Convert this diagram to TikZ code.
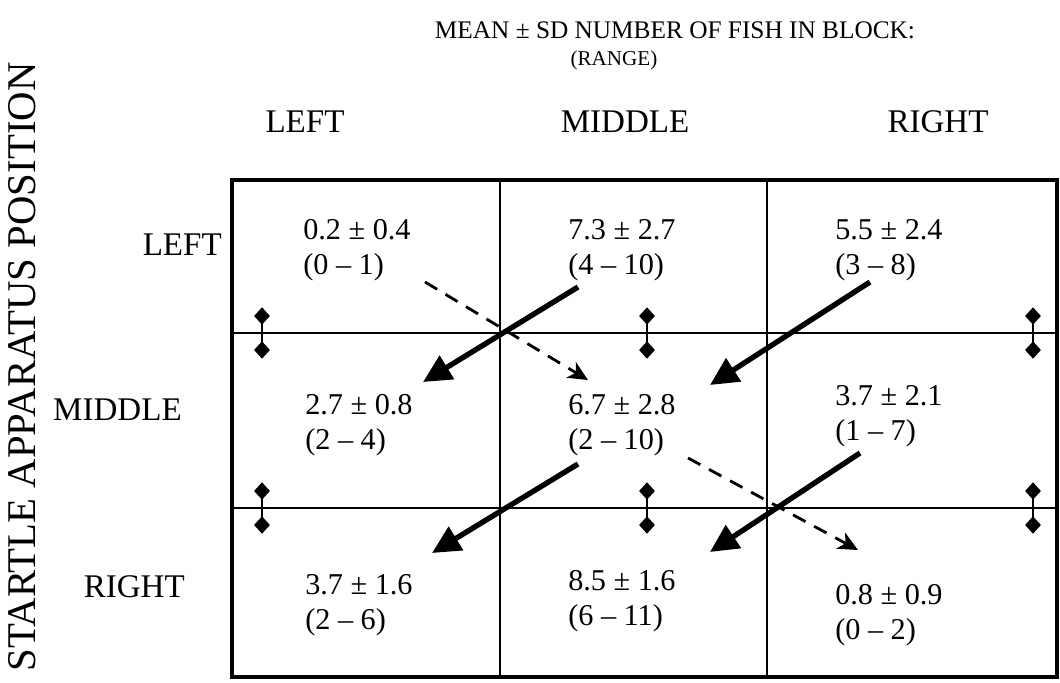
\documentclass[tikz,border=0pt]{standalone}
\usepackage{fontspec}
\setmainfont{Liberation Serif}
\usetikzlibrary{arrows.meta,shapes.geometric}

\tikzset{
  cell/.style={align=left, anchor=west, inner sep=0pt, font=\fontsize{21.5}{25}\selectfont},
  hdr/.style={inner sep=0pt, font=\fontsize{23.5}{27}\selectfont},
  knob/.style={diamond, fill, inner sep=0pt, minimum width=0.4cm, minimum height=0.44cm},
  startle/.style={line width=1.8pt},
  move/.style={line width=3.8pt, -{Triangle[length=20pt,width=19pt]}},
  drift/.style={line width=2pt, dash pattern=on 10pt off 7pt, -{Stealth[length=14pt,width=13pt,inset=4pt]}}
}

\begin{document}
\begin{tikzpicture}[x=0.025cm,y=-0.025cm]
  \useasboundingbox (0,0) rectangle (1060,683);

  % titles
  \node[inner sep=0pt, font=\fontsize{18}{20}\selectfont] (title) at (675,30) {MEAN ± SD NUMBER OF FISH IN BLOCK:};
  \node[inner sep=0pt, font=\fontsize{15}{18}\selectfont] (range) at (614,60) {(RANGE)};
  \node[hdr, rotate=90, font=\fontsize{29}{32}\selectfont] (startpos) at (22,367) {STARTLE APPARATUS POSITION};

  % column and row labels
  \node[hdr] (cleft) at (305,122) {LEFT};
  \node[hdr] (cmid) at (625,122) {MIDDLE};
  \node[hdr] (cright) at (938,122) {RIGHT};
  \node[hdr, anchor=east] (rleft) at (222,245) {LEFT};
  \node[hdr, anchor=east] (rmid) at (182,410) {MIDDLE};
  \node[hdr, anchor=east] (rright) at (185,587) {RIGHT};

  % the block grid
  \draw[line width=1.2pt] (232,333) -- (1057,333) (232,508) -- (1057,508);
  \draw[line width=1.2pt] (500,180) -- (500,677) (767,180) -- (767,677);
  \draw[line width=2.3pt] (232,180) rectangle (1057,677);

  % startle markers
  \foreach \x [count=\i] in {262,647,1033} {
    \foreach \y [count=\j] in {333,508} {
      \node[knob] (k\i\j t) at (\x,\y-17) {};
      \node[knob] (k\i\j b) at (\x,\y+17) {};
      \draw[startle] (k\i\j t.center) -- (k\i\j b.center);
    }
  }

  % mean +- sd and range in each block
  \node[cell] (ll) at (303,250) {0.2 ± 0.4\\(0 – 1)};
  \node[cell] (lm) at (568,250) {7.3 ± 2.7\\(4 – 10)};
  \node[cell] (lr) at (835,250) {5.5 ± 2.4\\(3 – 8)};
  \node[cell] (ml) at (305,425) {2.7 ± 0.8\\(2 – 4)};
  \node[cell] (mm) at (568,425) {6.7 ± 2.8\\(2 – 10)};
  \node[cell] (mr) at (835,416) {3.7 ± 2.1\\(1 – 7)};
  \node[cell] (rl) at (305,605) {3.7 ± 1.6\\(2 – 6)};
  \node[cell] (rm) at (568,601) {8.5 ± 1.6\\(6 – 11)};
  \node[cell] (rr) at (835,615) {0.8 ± 0.9\\(0 – 2)};

  % shifts
  \coordinate (a1) at (578,287);  \coordinate (a2) at (423,382);
  \coordinate (b1) at (870,282);  \coordinate (b2) at (710,385);
  \coordinate (c1) at (578,464);  \coordinate (c2) at (432,553);
  \coordinate (d1) at (860,453);  \coordinate (d2) at (710,552);
  \coordinate (e1) at (425,282);  \coordinate (e2) at (588,380);
  \coordinate (f1) at (688,458);  \coordinate (f2) at (858,550);
  \draw[move] (a1) -- (a2);
  \draw[move] (b1) -- (b2);
  \draw[move] (c1) -- (c2);
  \draw[move] (d1) -- (d2);
  \draw[drift] (e1) -- (e2);
  \draw[drift] (f1) -- (f2);
\end{tikzpicture}
\end{document}
